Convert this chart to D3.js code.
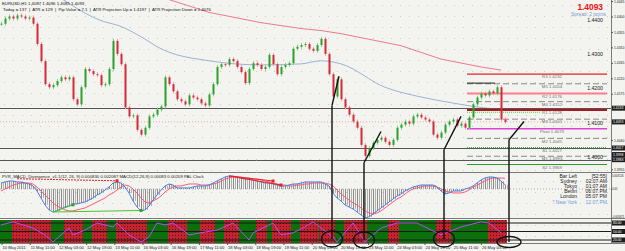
<!DOCTYPE html>
<html>
<head>
<meta charset="utf-8">
<script src="https://cdn.jsdelivr.net/npm/d3@7"></script>
<style>
body{margin:0;background:#fff}
svg{display:block;font-family:"Liberation Sans",Arial,sans-serif}
</style>
</head>
<body>
<script>
// hourly closes (one every ~2 bars of the original)
const closes = [1.4379,1.4394,1.4400,1.4394,1.4403,1.4400,1.4394,1.4397,1.4379,1.4320,
 1.4270,1.4203,1.4194,1.4200,1.4212,1.4223,1.4217,1.4223,1.4159,1.4144,
 1.4194,1.4247,1.4241,1.4232,1.4229,1.4200,1.4203,1.4247,1.4329,1.4291,
 1.4261,1.4135,1.4109,1.4112,1.4070,1.4056,1.4076,1.4109,1.4114,1.4129,
 1.4138,1.4223,1.4203,1.4182,1.4159,1.4153,1.4144,1.4170,1.4164,1.4159,
 1.4147,1.4141,1.4173,1.4203,1.4253,1.4261,1.4259,1.4276,1.4270,1.4253,
 1.4238,1.4206,1.4247,1.4264,1.4259,1.4247,1.4253,1.4288,1.4261,1.4232,
 1.4253,1.4259,1.4264,1.4306,1.4312,1.4317,1.4320,1.4306,1.4300,1.4317,
 1.4335,1.4291,1.4232,1.4167,1.4217,1.4159,1.4135,1.4114,1.4094,1.4076,
 1.4026,1.3994,1.4017,1.4032,1.4041,1.4047,1.4035,1.4026,1.4041,1.4076,
 1.4085,1.4094,1.4088,1.4109,1.4114,1.4106,1.4100,1.4094,1.4056,1.4047,
 1.4062,1.4085,1.4094,1.4100,1.4082,1.4088,1.4076,1.4106,1.4144,1.4164,
 1.4176,1.4170,1.4182,1.4176,1.4194,1.4100,1.4093];

// moving averages (bar index, price)
const blueMaBars = [15,25,30,35,40,52,65,75,80,85,96,104,112,120,125];
const blueMaVals = [1.4453,1.4388,1.4371,1.4341,1.4306,1.4271,1.4259,1.4262,1.4271,1.4262,1.4194,1.4168,1.4150,1.4135,1.4129];
const redMaBars = [41,52,65,75,80,85,100,110,120,125];
const redMaVals = [1.4453,1.4412,1.4382,1.4365,1.4359,1.4350,1.4315,1.4276,1.4253,1.4244];

// pivot levels
const pivotNames = ["R3","M5","R2","M4","R1","M3","Pivot","M2","S1","M1","S2"];
const pivotVals = [1.4232,1.4204,1.4176,1.4152,1.4128,1.4101,1.4073,1.4045,1.4017,1.3993,1.3969];
const fullLines = [1.4133,1.4017,1.3983];
const roundLevels = [1.44,1.43,1.42,1.41,1.40];
const priceTicks = [1.4445,1.4400,1.4355,1.4310,1.4265,1.4220,1.4175,1.4040,1.3955];
const priceBoxes = [1.4133,1.4093,1.4017,1.3998,1.3983];
const bid = 1.4093;

// MACD in pips
const macdMain = [11.7,13.7,15.6,15.6,13.7,13.7,11.7,9.8,5.9,-3.9,
 -17.6,-31.2,-40.9,-44.9,-42.9,-39,-35.1,-33.2,-29.3,-29.3,
 -27.3,-25.4,-21.5,-17.6,-11.7,-7.8,-2,3.9,11.7,13.7,
 11.7,3.9,-7.8,-23.4,-35.1,-42.9,-40.9,-33.2,-21.5,-11.7,
 -2,5.9,9.8,7.8,2,2,2,2,3.9,5.9,
 5.9,5.9,7.8,11.7,15.6,19.5,23.4,25.4,25.4,23.4,
 21.5,19.5,19.5,17.6,15.6,13.7,11.7,11.7,9.8,7.8,
 5.9,5.9,7.8,9.8,9.8,11.7,13.7,13.7,13.7,13.7,
 13.7,9.8,5.9,-7.8,-17.6,-23.4,-31.2,-35.1,-39,-44.9,
 -50.7,-56.6,-54.6,-48.8,-42.9,-37.1,-31.2,-25.4,-19.5,-13.7,
 -9.8,-3.9,0,3.9,5.9,7.8,7.8,7.8,7.8,3.9,
 -3.9,-9.8,-7.8,-3.9,-3.9,-3.9,0,2,5.9,11.7,
 17.6,21.5,23.4,23.4,21.5,15.6,8.3];
const macdSignal = [-3.9,0,3.9,7.8,9.8,11.7,11.7,11.7,9.8,3.9,
 -3.9,-11.7,-19.5,-27.3,-33.2,-37.1,-40.9,-42.9,-42.9,-40.9,
 -39,-37.1,-33.2,-29.3,-25.4,-21.5,-17.6,-11.7,-7.8,-2,
 3.9,7.8,5.9,0,-7.8,-17.6,-25.4,-27.3,-23.4,-19.5,
 -13.7,-5.9,0,3.9,5.9,5.9,7.8,9.8,9.8,9.8,
 7.8,7.8,7.8,9.8,11.7,15.6,19.5,21.5,23.4,23.4,
 23.4,21.5,21.5,19.5,19.5,17.6,15.6,13.7,11.7,9.8,
 7.8,7.8,5.9,5.9,7.8,7.8,9.8,9.8,11.7,11.7,
 11.7,11.7,9.8,5.9,-2,-9.8,-15.6,-21.5,-27.3,-31.2,
 -37.1,-42.9,-46.8,-48.8,-46.8,-42.9,-37.1,-31.2,-25.4,-19.5,
 -15.6,-9.8,-3.9,0,2,3.9,5.9,5.9,5.9,3.9,
 0,-3.9,-5.9,-7.8,-7.8,-7.8,-5.9,-2,3.9,7.8,
 11.7,15.6,19.5,21.5,21.5,21.5,20.9];
const macdTicks = [31.26,0,-56.71];
const divRed = [[[4,20],[29,16]],[[57,25.4],[68,15.6]],[[57,25.4],[70,7.8]]];
const divGreen = [[[13,-45],[18,-31]],[[13,-45],[35,-42]]];

// bottom oscillator
const oscBars = [0,3,8,11,13,15,17,18,21,24,28,29,32,35,37,39,41,43,47,51,54,58,62,63,68,70,73,76,78,83,84,88,91,95,99,104,110,115,120,122,125];
const oscVals = [73,84,62,38,13,38,62,38,55,80,66,80,38,13,31,80,73,80,38,48,55,80,20,45,80,38,45,66,84,31,13,80,13,62,80,80,38,66,84,80,45];
const oscLevels = [80,50,20];
const redBlocks = [[3,7],[8,12],[16,20],[23,26],[29,36],[42,46],[50,53],[56,59],[64,66],[68,72],[75,79],[80,83],[86,91],[97,99],[109,112],[122,126]];

const dateLabels = ["10 May 2011","11 May 11:00","12 May 03:00","12 May 19:00","13 May 11:00","16 May 03:00",
 "16 May 19:00","17 May 11:00","18 May 03:00","18 May 19:00","19 May 11:00","20 May 03:00",
 "20 May 19:00","23 May 11:00","24 May 03:00","24 May 19:00","25 May 11:00","26 May 03:00"];

const infoNames = ["Bar Left","Sydney","Tokyo","Berlin","London","* New York"];
const infoVals = ["[52:55]","02:07 AM","01:07 AM","06:07 PM","05:07 PM","12:07 PM"];

// hand drawn annotations (bar, price)
const annotBars = [[82.75,84.5],[90.75,95],[110.75,115],[127,130.75]];
const annotPrices = [[1.4141,1.4226],[1.3974,1.4065],[1.4012,1.4109],[1.4041,1.4094]];

const W = 625, H = 251, plotR = 611;
const mainTop = 0, mainBot = 172, macdTop = 173, macdBot = 218, oscTop = 219, oscBot = 243;

const svg = d3.select("body").append("svg").attr("width", W).attr("height", H);
const defs = svg.append("defs");

const gp = defs.append("pattern").attr("id","grid").attr("patternUnits","userSpaceOnUse")
  .attr("width",9).attr("height",11);
gp.append("rect").attr("x",4).attr("y",5).attr("width",1).attr("height",1).attr("fill","#cdc8c2");

const rp = defs.append("pattern").attr("id","reddots").attr("patternUnits","userSpaceOnUse")
  .attr("width",3).attr("height",3);
rp.append("rect").attr("width",3).attr("height",3).attr("fill","#c4232f");
rp.append("rect").attr("x",1).attr("y",1).attr("width",1).attr("height",1).attr("fill","#6a1018");

[["clipMain",mainTop,mainBot],["clipMacd",macdTop,macdBot],["clipOsc",oscTop,oscBot]].forEach(c=>{
  defs.append("clipPath").attr("id",c[0]).append("rect")
    .attr("x",0).attr("y",c[1]).attr("width",plotR).attr("height",c[2]-c[1]);
});

svg.append("rect").attr("width",W).attr("height",H).attr("fill","#f3f3ef");
svg.append("rect").attr("width",plotR).attr("height",oscBot).attr("fill","url(#grid)");

const x = d3.scaleLinear().domain([0, closes.length-1]).range([1, 505]);
const y = d3.scaleLinear().domain([1.3955, 1.4455]).range([169.3, -2.4]);
const ym = d3.scaleLinear().domain([-56.71, 31.26]).range([macdBot, macdTop]);
const yo = d3.scaleLinear().domain([20, 80]).range([240, 223]);

// ---------- main panel ----------
const main = svg.append("g").attr("clip-path","url(#clipMain)");

main.append("path")
  .attr("d", d3.line().x(d=>x(d[0])).y(d=>y(d[1]))(redMaBars.map((b,i)=>[b,redMaVals[i]])))
  .attr("fill","none").attr("stroke","#f07890").attr("stroke-width",1);
main.append("path")
  .attr("d", d3.line().curve(d3.curveMonotoneX).x(d=>x(d[0])).y(d=>y(d[1]))(blueMaBars.map((b,i)=>[b,blueMaVals[i]])))
  .attr("fill","none").attr("stroke","#9db4d2").attr("stroke-width",1);

fullLines.forEach(p=>{
  main.append("line").attr("x1",0).attr("x2",plotR).attr("y1",Math.round(y(p))+0.5).attr("y2",Math.round(y(p))+0.5)
    .attr("stroke","#555").attr("stroke-width",1);
});
main.append("line").attr("x1",0).attr("x2",plotR).attr("y1",y(bid)).attr("y2",y(bid))
  .attr("stroke","#e4a8a0").attr("stroke-dasharray","1,2");

const pivotStyle = {
  R3:{c:"#e0242c",w:1.2}, R2:{c:"#ff7c90",w:2}, R1:{c:"#b0161e",w:2},
  Pivot:{c:"#e040d8",w:1.5}, S1:{c:"#2e7a2e",w:1.5,d:"1,1"}, S2:{c:"#2aa02a",w:1.2}
};
const pivX0 = 467, pivX1 = 607;
pivotNames.forEach((n,i)=>{
  const st = pivotStyle[n] || {c:"#8a8a8a",w:1,d:"6,3"};
  const yy = y(pivotVals[i]);
  main.append("line").attr("x1",pivX0).attr("x2",pivX1).attr("y1",yy).attr("y2",yy)
    .attr("stroke",st.c).attr("stroke-width",st.w).attr("stroke-dasharray",st.d||null);
  main.append("text").attr("x",552).attr("y",yy+4.2).attr("text-anchor","middle")
    .attr("font-size",4.3).attr("fill","#707070").text(n+" "+pivotVals[i].toFixed(4));
});
// today high + atr line
main.append("line").attr("x1",pivX0).attr("x2",495).attr("y1",y(1.4206)).attr("y2",y(1.4206))
  .attr("stroke","#222").attr("stroke-width",1);
main.append("line").attr("x1",pivX0).attr("x2",540).attr("y1",y(1.4121)).attr("y2",y(1.4121))
  .attr("stroke","#44dd44").attr("stroke-dasharray","1,1");

roundLevels.forEach(p=>{
  main.append("text").attr("x",603).attr("y",y(p)+5.2).attr("text-anchor","end")
    .attr("font-size",5.2).attr("fill","#222").text(p.toFixed(4));
});

const candles = closes.map((c,i)=>({i:i, o: i ? closes[i-1] : c, c:c}));
main.selectAll(".wick").data(candles).join("line").attr("class","wick")
  .attr("x1",d=>x(d.i)+0.5).attr("x2",d=>x(d.i)+0.5)
  .attr("y1",d=>y(Math.max(d.o,d.c))-2).attr("y2",d=>y(Math.min(d.o,d.c))+2)
  .attr("stroke",d=>d.c>=d.o?"#8ccf8c":"#f0a4ac").attr("stroke-width",1);
main.selectAll(".body").data(candles).join("rect").attr("class","body")
  .attr("x",d=>x(d.i)-0.5).attr("width",2)
  .attr("y",d=>y(Math.max(d.o,d.c)))
  .attr("height",d=>Math.max(1,Math.abs(y(d.o)-y(d.c))))
  .attr("fill",d=>d.c>=d.o?"#2ca02c":"#d42a38");

// ---------- macd panel ----------
const mg = svg.append("g").attr("clip-path","url(#clipMacd)");
mg.append("line").attr("x1",0).attr("x2",plotR).attr("y1",ym(0)).attr("y2",ym(0))
  .attr("stroke","#aaa").attr("stroke-dasharray","1,2");
mg.selectAll(".hist").data(macdMain).join("line").attr("class","hist")
  .attr("x1",(d,i)=>x(i)+0.5).attr("x2",(d,i)=>x(i)+0.5)
  .attr("y1",ym(0)).attr("y2",d=>ym(d)).attr("stroke","#8a8a8a");
mg.selectAll(".hist2").data(macdMain).join("line").attr("class","hist2")
  .attr("x1",(d,i)=>x(i)+2.5).attr("x2",(d,i)=>x(i)+2.5)
  .attr("y1",ym(0)).attr("y2",d=>ym(d)).attr("stroke","#b0b0b0");
mg.append("path").attr("d",d3.line().x((d,i)=>x(i)).y(d=>ym(d))(macdSignal))
  .attr("fill","none").attr("stroke","#ff5a78").attr("stroke-width",1);
mg.append("path").attr("d",d3.line().x((d,i)=>x(i)).y(d=>ym(d))(macdMain))
  .attr("fill","none").attr("stroke","#4a7fe0").attr("stroke-width",1);
divRed.forEach((seg,k)=>{
  mg.append("line").attr("x1",x(seg[0][0])).attr("y1",ym(seg[0][1])).attr("x2",x(seg[1][0])).attr("y2",ym(seg[1][1]))
    .attr("stroke","#ee2020").attr("stroke-dasharray",k===0?"2,1":null);
  mg.append("rect").attr("x",x(seg[1][0])-1.5).attr("y",ym(seg[1][1])-1.5).attr("width",3).attr("height",3).attr("fill","#ee2020");
});
divGreen.forEach(seg=>{
  mg.append("line").attr("x1",x(seg[0][0])).attr("y1",ym(seg[0][1])).attr("x2",x(seg[1][0])).attr("y2",ym(seg[1][1]))
    .attr("stroke","#50c030");
  mg.append("rect").attr("x",x(seg[1][0])-1.5).attr("y",ym(seg[1][1])-1.5).attr("width",3).attr("height",3).attr("fill","#30a030");
});
svg.append("text").attr("x",2).attr("y",178).attr("font-size",4.3).attr("fill","#222")
  .text("PVR_MACD_Divergence_v1.1(12, 26, 9) 0.000830 0.002087   MACD(12,26,9) 0.00083 0.00209   PAL Clock");

const info = svg.append("g");
infoNames.forEach((n,i)=>{
  const col = i===infoNames.length-1 ? "#6a9ee0" : "#222";
  info.append("text").attr("x",577).attr("y",178+i*5.1).attr("text-anchor","end").attr("font-size",5)
    .attr("fill",col).text(n);
  info.append("text").attr("x",607).attr("y",178+i*5.1).attr("text-anchor","end").attr("font-size",5)
    .attr("fill",col).text(infoVals[i]);
});

// ---------- oscillator panel ----------
const og = svg.append("g").attr("clip-path","url(#clipOsc)");
og.append("rect").attr("x",x(0)-1).attr("width",x(closes.length-1)-x(0)+3)
  .attr("y",oscTop+1).attr("height",oscBot-oscTop-1).attr("fill","#0b700b");
og.selectAll(".blk").data(redBlocks).join("rect").attr("class","blk")
  .attr("x",d=>x(d[0])-1).attr("width",d=>x(d[1])-x(d[0])+3)
  .attr("y",oscTop+1).attr("height",oscBot-oscTop-1).attr("fill","url(#reddots)");
oscLevels.forEach(v=>{
  og.append("line").attr("x1",0).attr("x2",plotR).attr("y1",yo(v)).attr("y2",yo(v))
    .attr("stroke","#1a1a1a").attr("stroke-width",1);
});
og.append("path").attr("d",d3.line().x(d=>x(d[0])).y(d=>yo(d[1]))(oscBars.map((b,i)=>[b,oscVals[i]])))
  .attr("fill","none").attr("stroke","#b44cf0").attr("stroke-width",1);

// ---------- panel borders ----------
[mainBot+0.5, macdBot+0.5, oscBot+0.5].forEach(v=>{
  svg.append("line").attr("x1",0).attr("x2",W).attr("y1",v).attr("y2",v).attr("stroke","#7a7a7a");
});
svg.append("line").attr("x1",plotR+0.5).attr("x2",plotR+0.5).attr("y1",0).attr("y2",oscBot).attr("stroke","#7a7a7a");

// ---------- price axis ----------
const ax = svg.append("g").attr("transform",`translate(${plotR},0)`)
  .call(d3.axisRight(y).tickValues(priceTicks).tickFormat(d3.format(".4f")).tickSize(2).tickPadding(1));
ax.select(".domain").remove();
ax.selectAll("text").attr("font-size",3.4).attr("fill","#222").attr("font-family","Liberation Sans,Arial");
ax.selectAll("line").attr("stroke","#555");
priceBoxes.forEach(p=>{
  svg.append("rect").attr("x",plotR+1).attr("y",y(p)-2.5).attr("width",13).attr("height",5).attr("fill","#1e1e1e");
  svg.append("text").attr("x",plotR+2).attr("y",y(p)+1.3).attr("font-size",3.4).attr("fill","#fff").text(p.toFixed(4));
});
const macdAx = svg.append("g").attr("transform",`translate(${plotR},0)`)
  .call(d3.axisRight(ym).tickValues(macdTicks).tickFormat(d=>d===0?"0.00":(d/10000).toFixed(6)).tickSize(1).tickPadding(0));
macdAx.select(".domain").remove();
macdAx.selectAll("text").attr("font-size",2.75).attr("fill","#222").attr("font-family","Liberation Sans,Arial")
  .attr("dy",(d,i)=>i===0?"1.1em":(i===2?"-0.3em":"0.32em"));
macdAx.selectAll("line").attr("stroke","#555");
oscLevels.forEach(v=>{
  svg.append("rect").attr("x",plotR+1).attr("y",yo(v)-2.5).attr("width",13).attr("height",5).attr("fill","#1e1e1e");
  svg.append("text").attr("x",plotR+2).attr("y",yo(v)+1.3).attr("font-size",3.4).attr("fill","#fff").text(v.toFixed(2));
});

// ---------- date axis ----------
const dx = d3.scaleLinear().domain([0,dateLabels.length-1]).range([2, 2+28.2*(dateLabels.length-1)]);
dateLabels.forEach((t,i)=>{
  svg.append("line").attr("x1",dx(i)).attr("x2",dx(i)).attr("y1",oscBot).attr("y2",oscBot+2).attr("stroke","#555");
  svg.append("text").attr("x",dx(i)+0.5).attr("y",249).attr("font-size",4.1).attr("fill","#222").text(t);
});

// ---------- annotations ----------
const circleY = [239,240,239,242];
annotBars.forEach((b,i)=>{
  const p = annotPrices[i];
  svg.append("line").attr("x1",x(b[0])).attr("y1",y(p[0])).attr("x2",x(b[1])).attr("y2",y(p[1]))
    .attr("stroke","#111").attr("stroke-width",1.4);
  svg.append("line").attr("x1",x(b[0])).attr("y1",y(p[0])).attr("x2",x(b[0])).attr("y2",circleY[i])
    .attr("stroke","#111").attr("stroke-width",1.4);
  svg.append("ellipse").attr("cx",x(b[0])).attr("cy",circleY[i]).attr("rx",i===3?12:10.5).attr("ry",i===3?5.5:8)
    .attr("fill","none").attr("stroke","#111").attr("stroke-width",1.3);
});

// ---------- header texts ----------
svg.append("text").attr("x",2).attr("y",5).attr("font-size",4.3).attr("fill","#111")
  .text("EURUSD,H1  1.4087 1.4096 1.4085 1.4093");
svg.append("text").attr("x",3).attr("y",10.5).attr("font-size",4.3).attr("fill","#111").attr("xml:space","preserve")
  .text("Today = 137  |  ATR = 129  |  Pip Value = 7.1  |  ATR Projection Up = 1.4197  |  ATR Projection Down = 1.4076");
svg.append("text").attr("x",603).attr("y",10.3).attr("text-anchor","end").attr("font-size",8.4)
  .attr("font-weight","bold").attr("fill","#f01010").text(bid.toFixed(4));
svg.append("text").attr("x",606).attr("y",16.2).attr("text-anchor","end").attr("font-size",4.8)
  .attr("fill","#7aa0cc").text("Spread: 2 points");
</script>
</body>
</html>
